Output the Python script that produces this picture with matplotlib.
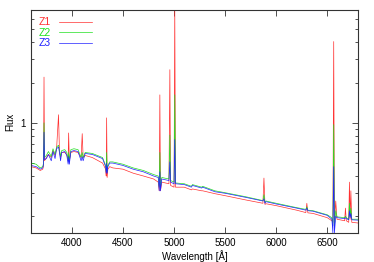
import numpy as np
import matplotlib
matplotlib.use("Agg")
import matplotlib.pyplot as plt
from matplotlib.ticker import LogLocator, FixedLocator, NullFormatter

plt.rcParams['font.family'] = ['Liberation Sans', 'DejaVu Sans']

# wavelength grid [A] and flux for the three spectra
wave = [3600, 3650, 3690, 3715, 3722, 3727, 3732, 3750, 3770, 3798,
        3815, 3835, 3850, 3869, 3878, 3889, 3900, 3930, 3950, 3963,
        3968, 3975, 3990, 4020, 4060, 4090, 4101, 4110, 4130, 4200,
        4300, 4330, 4336, 4340, 4345, 4352, 4370, 4400, 4500, 4600,
        4700, 4800, 4845, 4855, 4861, 4867, 4880, 4950, 4959, 4966,
        5000, 5007, 5014, 5100, 5170, 5180, 5270, 5280, 5400, 5500,
        5700, 5870, 5880, 5890, 5900, 6000, 6200, 6290, 6300, 6310,
        6360, 6500, 6545, 6555, 6563, 6570, 6583, 6595, 6670, 6678,
        6686, 6710, 6717, 6724, 6731, 6740, 6800]

z1 = [0.47, 0.46, 0.44, 0.45, 0.48, 2.20, 0.52, 0.55, 0.58, 0.55,
      0.62, 0.57, 0.64, 1.15, 0.62, 0.55, 0.60, 0.60, 0.58, 0.52,
      0.84, 0.52, 0.60, 0.61, 0.60, 0.55, 0.83, 0.55, 0.57, 0.55,
      0.50, 0.45, 0.40, 1.09, 0.39, 0.45, 0.47, 0.46, 0.45, 0.42,
      0.40, 0.38, 0.36, 0.31, 1.62, 0.31, 0.36, 0.35, 2.50, 0.34,
      0.33, 7.50, 0.33, 0.33, 0.315, 0.32, 0.31, 0.31, 0.295, 0.285,
      0.265, 0.25, 0.386, 0.245, 0.248, 0.24, 0.222, 0.213, 0.25, 0.212,
      0.21, 0.195, 0.185, 0.18, 4.06, 0.18, 0.26, 0.19, 0.185, 0.23,
      0.185, 0.18, 0.36, 0.19, 0.31, 0.18, 0.178]

z2 = [0.50, 0.49, 0.46, 0.47, 0.50, 1.00, 0.55, 0.57, 0.61, 0.56,
      0.64, 0.58, 0.66, 0.68, 0.63, 0.56, 0.62, 0.63, 0.60, 0.52,
      0.60, 0.52, 0.63, 0.64, 0.63, 0.55, 0.60, 0.55, 0.60, 0.59,
      0.55, 0.48, 0.43, 0.60, 0.43, 0.48, 0.51, 0.51, 0.49, 0.46,
      0.44, 0.41, 0.40, 0.33, 0.60, 0.33, 0.39, 0.38, 0.81, 0.37,
      0.36, 1.62, 0.355, 0.35, 0.335, 0.345, 0.33, 0.335, 0.31, 0.30,
      0.28, 0.262, 0.29, 0.255, 0.26, 0.25, 0.232, 0.225, 0.235, 0.222,
      0.22, 0.205, 0.195, 0.17, 0.97, 0.17, 0.22, 0.198, 0.195, 0.20,
      0.195, 0.19, 0.25, 0.20, 0.23, 0.19, 0.19]

z3 = [0.48, 0.47, 0.45, 0.46, 0.49, 0.85, 0.53, 0.54, 0.58, 0.52,
      0.61, 0.54, 0.64, 0.66, 0.60, 0.52, 0.60, 0.61, 0.57, 0.49,
      0.56, 0.49, 0.61, 0.62, 0.61, 0.52, 0.56, 0.52, 0.59, 0.58,
      0.54, 0.47, 0.42, 0.50, 0.42, 0.47, 0.50, 0.50, 0.48, 0.45,
      0.43, 0.40, 0.39, 0.31, 0.43, 0.31, 0.38, 0.37, 0.51, 0.36,
      0.35, 0.75, 0.35, 0.345, 0.33, 0.34, 0.325, 0.33, 0.305, 0.297,
      0.277, 0.26, 0.27, 0.25, 0.257, 0.247, 0.23, 0.222, 0.23, 0.22,
      0.218, 0.203, 0.19, 0.15, 0.47, 0.15, 0.20, 0.195, 0.192, 0.195,
      0.192, 0.188, 0.22, 0.195, 0.21, 0.188, 0.187]

fig = plt.figure(figsize=(3.74, 2.62), dpi=100)
ax = fig.add_axes([0.083, 0.111, 0.874, 0.851])

ax.plot(wave, z1, color='#ff3030', lw=0.5, label='Z1')
ax.plot(wave, z2, color='#20e020', lw=0.5, label='Z2')
ax.plot(wave, z3, color='#2020ff', lw=0.5, label='Z3')

ax.set_yscale('log')
ax.set_xlim(3600, 6800)
ax.set_ylim(0.15, 7.0)

ax.xaxis.set_major_locator(FixedLocator([4000, 4500, 5000, 5500, 6000, 6500]))
ax.yaxis.set_major_locator(FixedLocator([1]))
ax.yaxis.set_major_formatter(plt.FixedFormatter(['1']))
ax.yaxis.set_minor_locator(LogLocator(base=10, subs=np.arange(2, 10)))
ax.yaxis.set_minor_formatter(NullFormatter())

ax.tick_params(which='both', direction='in', top=True, right=True,
               labelsize=7, color='#333333', width=0.6)
ax.tick_params(which='major', length=4)
ax.tick_params(which='minor', length=2.5)
for s in ax.spines.values():
    s.set_color('#333333')
    s.set_linewidth(0.8)

ax.set_xlabel('Wavelength [Å]', fontsize=7, labelpad=2)
ax.set_ylabel('Flux', fontsize=7, labelpad=4)

leg = ax.legend(loc='upper left', frameon=False, fontsize=7.5, markerfirst=False,
                labelcolor='linecolor', handlelength=3.2, handletextpad=0.8,
                labelspacing=0.05, borderaxespad=0.3)

fig.savefig('out.png', dpi=100)
